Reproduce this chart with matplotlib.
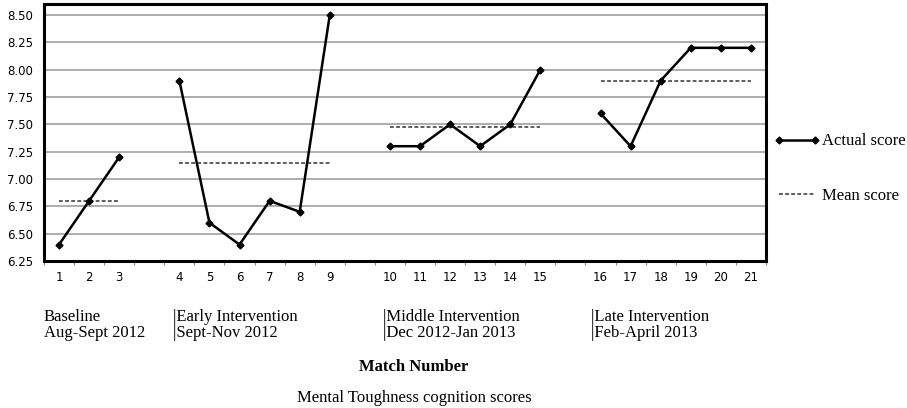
import matplotlib
matplotlib.use('Agg')
import matplotlib.pyplot as plt
import numpy as np

# scores per phase
baseline = [6.4, 6.8, 7.2]
early = [7.9, 6.6, 6.4, 6.8, 6.7, 8.5]
middle = [7.3, 7.3, 7.5, 7.3, 7.5, 8.0]
late = [7.6, 7.3, 7.9, 8.2, 8.2, 8.2]
phase_means = [6.8, 7.15, 7.48, 7.9]
phase_names = ["Baseline", "|Early Intervention", "|Middle Intervention", "|Late Intervention"]
phase_dates = ["Aug-Sept 2012", "|Sept-Nov 2012", "|Dec 2012-Jan 2013", "|Feb-April 2013"]
yticks = [6.25, 6.50, 6.75, 7.00, 7.25, 7.50, 7.75, 8.00, 8.25, 8.50]

phases = [baseline, early, middle, late]

serif = 'Liberation Serif'
fs = 12

fig = plt.figure(figsize=(9.07, 4.08), dpi=100)
ax = fig.add_axes([0.0485, 0.3603, 0.796, 0.6297])

# category slots, one empty slot between phases
slot = 0
match = 1
tick_pos, tick_lab = [], []
for i, vals in enumerate(phases):
    xs = np.arange(slot, slot + len(vals))
    ax.plot(xs, vals, color='black', lw=1.8, marker='D', ms=3.5,
            label='Actual score' if i == 0 else None, zorder=3)
    ax.plot([xs[0], xs[-1]], [phase_means[i]] * 2, color='#333333', lw=1.1,
            ls=(0, (2.5, 1.5)), label='Mean score' if i == 0 else None, zorder=2)
    for x in xs:
        tick_pos.append(x)
        tick_lab.append(str(match))
        match += 1
    slot += len(vals) + 1
nslots = slot - 1

ax.set_xlim(-0.5, nslots - 0.5)
ax.set_ylim(6.25, 8.6)
ax.set_yticks(yticks)
ax.set_yticklabels(['%.2f' % v for v in yticks], fontsize=8.5)
ax.yaxis.grid(True, color='#a0a0a0', lw=1.2)
ax.tick_params(axis='y', length=0, pad=8)

ax.set_xticks(np.arange(-0.5, nslots, 1.0))
ax.set_xticklabels([])
ax.tick_params(axis='x', which='major', length=3, color='#888888')
ax.set_xticks(tick_pos, minor=True)
ax.set_xticklabels(tick_lab, minor=True, fontsize=8.5)
ax.tick_params(axis='x', which='minor', length=0, pad=7)

for s in ax.spines.values():
    s.set_linewidth(2.2)
    s.set_color('black')

ax.legend(loc='center left', bbox_to_anchor=(0.99, 0.36), frameon=False,
          labelspacing=2.3, handlelength=2.8, handletextpad=0.1, numpoints=2,
          prop={'family': serif, 'size': fs})

# phase labels under the axis
xpos = [44, 173, 383, 591]
for i in range(4):
    fig.text(xpos[i] / 907, 1 - 317 / 408, phase_names[i], family=serif,
             fontsize=fs, va='center')
    fig.text(xpos[i] / 907, 1 - 333 / 408, phase_dates[i], family=serif,
             fontsize=fs, va='center')

fig.text(414 / 907, 1 - 367 / 408, 'Match Number', family=serif, fontsize=fs,
         weight='bold', ha='center', va='center')
fig.text(414 / 907, 1 - 398 / 408, 'Mental Toughness cognition scores',
         family=serif, fontsize=fs, ha='center', va='center')

fig.savefig('out.png', dpi=100)
